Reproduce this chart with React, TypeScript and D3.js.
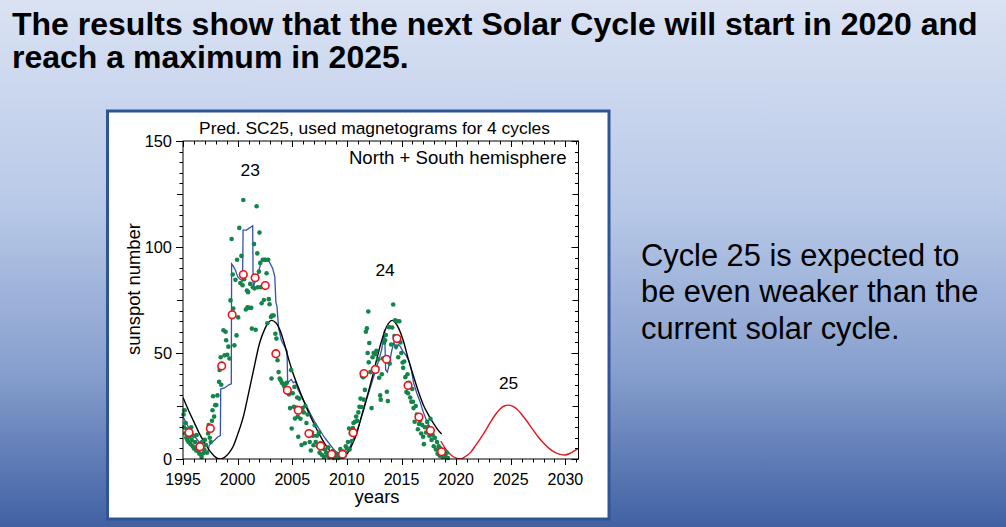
import React from "react";
import * as d3 from "d3";

// ---------- data ----------
const xMajorTicks = [1995, 2000, 2005, 2010, 2015, 2020, 2025, 2030];
const yMajorTicks = [0, 50, 100, 150];

// predicted (fitted) curve for cycles 23 and 24 (black)
const fitYears = [1995.0, 1995.5, 1996.0, 1996.5, 1997.0, 1997.5, 1998.0, 1998.4, 1998.8, 1999.2, 1999.6, 2000.0, 2000.5, 2001.0, 2001.5, 2002.0, 2002.5, 2002.8, 2003.1, 2003.5, 2003.9, 2004.3, 2004.7, 2005.1, 2005.5, 2006.0, 2006.5, 2007.0, 2007.5, 2008.0, 2008.5, 2009.0, 2009.35, 2009.7, 2010.1, 2010.5, 2010.9, 2011.3, 2011.8, 2012.4, 2013.0, 2013.6, 2014.15, 2014.6, 2015.15, 2015.6, 2016.1, 2016.6, 2017.0, 2017.5, 2017.9, 2018.3, 2018.67];
const fitValues = [29, 23, 17.5, 12, 7.5, 3.5, 0.8, 0, 0.8, 2.8, 6, 11.5, 19.5, 31, 43, 54.5, 61.5, 64.3, 65.4, 64.3, 60.5, 54, 46.5, 40, 34.5, 28, 22, 16.5, 11.5, 7, 3.5, 0.9, 0, 0.7, 3, 7, 12, 19.5, 28.5, 40, 52.5, 62, 65.4, 63, 56, 47.5, 39, 31, 25.5, 20.5, 17, 14, 11.8];

// predicted cycle 25 (red)
const predYears = [2018.6, 2019.0, 2019.5, 2020.0, 2020.35, 2020.8, 2021.3, 2021.8, 2022.2, 2022.7, 2023.1, 2023.6, 2024.0, 2024.4, 2024.8, 2025.2, 2025.6, 2026.0, 2026.5, 2027.0, 2027.5, 2028.0, 2028.5, 2029.0, 2029.5, 2029.95, 2030.4, 2030.8, 2031.2];
const predValues = [8.5, 5, 2, 0.4, 0, 1, 3, 6.5, 9.5, 13.5, 17, 21, 23.5, 25, 25.4, 24.8, 23.3, 21, 17.7, 14, 10.5, 7.5, 5, 3.2, 2.2, 1.9, 2.6, 3.8, 5];

// smoothed observed sunspot number (blue)
const obsYears = [1995.0, 1995.3, 1995.5, 1995.8, 1996.1, 1996.4, 1996.7, 1996.9, 1997.1, 1997.25, 1997.4, 1997.6, 1997.9, 1998.2, 1998.42, 1998.45, 1998.8, 1999.2, 1999.42, 1999.45, 1999.6, 1999.8, 2000.0, 2000.2, 2000.45, 2000.5, 2000.8, 2001.1, 2001.38, 2001.42, 2001.7, 2001.9, 2002.1, 2002.3, 2002.6, 2002.9, 2003.2, 2003.4, 2003.5, 2003.6, 2003.75, 2004.0, 2004.3, 2004.52, 2004.58, 2004.9, 2005.1, 2005.3, 2005.5, 2005.8, 2006.1, 2006.4, 2006.7, 2007.0, 2007.3, 2007.6, 2007.9, 2008.2, 2008.5, 2008.8, 2009.1, 2009.4, 2009.7, 2010.0, 2010.3, 2010.6, 2010.9, 2011.2, 2011.5, 2011.8, 2012.1, 2012.4, 2012.7, 2013.0, 2013.2, 2013.35, 2013.45, 2013.55, 2013.7, 2013.9, 2014.1, 2014.3, 2014.5, 2014.7, 2014.9, 2015.1, 2015.4, 2015.7, 2015.9, 2016.1, 2016.4, 2016.7, 2017.0, 2017.3, 2017.6, 2017.9, 2018.2, 2018.5, 2018.7];
const obsValues = [20, 17, 15, 12.5, 10.5, 8.5, 7, 5, 3.5, 2.8, 6.5, 7.5, 9, 10.5, 11, 33, 33.5, 35, 35.5, 92, 91, 89, 86, 85, 84, 108, 108, 109, 110, 81, 85, 88, 92, 94, 94.5, 93, 90, 86, 74, 72, 62, 56, 53, 51, 36, 37.5, 36, 36.5, 33, 30, 27, 24, 21, 18, 15.5, 13, 10.5, 8.5, 6.5, 4.5, 3, 2, 2.5, 3.5, 6, 9.5, 13, 17.5, 22.5, 28, 33, 38, 43, 48, 52, 58, 61, 42, 41, 45, 51, 55, 52, 54, 53, 51, 49, 46, 42, 36, 31, 27, 22, 18, 15, 12, 8.5, 6, 5];

// monthly values (green dots)
const monthlyYears = [
  1995.05, 1995.1, 1995.15, 1995.2, 1995.25, 1995.3, 1995.35, 1995.4, 1995.45, 1995.5, 1995.55, 1995.6, 1995.7, 1995.75, 1995.8, 1995.9, 1995.95,
  1996.0, 1996.1, 1996.2, 1996.25, 1996.3, 1996.4, 1996.45, 1996.5, 1996.6, 1996.7, 1996.75, 1996.85, 1996.95,
  1997.0, 1997.1, 1997.2, 1997.3, 1997.35, 1997.45, 1997.55, 1997.65, 1997.7, 1997.75, 1997.85, 1997.95,
  1998.05, 1998.15, 1998.3, 1998.35, 1998.45, 1998.5, 1998.6, 1998.7, 1998.8, 1998.9, 1998.95,
  1999.05, 1999.15, 1999.25, 1999.35, 1999.45, 1999.55, 1999.6, 1999.7, 1999.8, 1999.9, 1999.95,
  2000.05, 2000.15, 2000.25, 2000.35, 2000.45, 2000.52, 2000.6, 2000.75, 2000.85, 2000.9, 2000.95,
  2001.05, 2001.15, 2001.25, 2001.3, 2001.4, 2001.5, 2001.55, 2001.65, 2001.74, 2001.8, 2001.85, 2001.95,
  2002.0, 2002.07, 2002.12, 2002.2, 2002.3, 2002.4, 2002.45, 2002.55, 2002.65, 2002.72, 2002.8, 2002.85, 2002.92,
  2003.05, 2003.1, 2003.15, 2003.3, 2003.45, 2003.55, 2003.65, 2003.75, 2003.85, 2003.95,
  2004.05, 2004.2, 2004.3, 2004.4, 2004.5, 2004.6, 2004.7, 2004.8, 2004.9, 2004.95,
  2005.05, 2005.15, 2005.2, 2005.25, 2005.35, 2005.45, 2005.5, 2005.55, 2005.65, 2005.75, 2005.85, 2005.95,
  2006.05, 2006.15, 2006.2, 2006.3, 2006.4, 2006.5, 2006.6, 2006.7, 2006.8, 2006.9, 2006.95,
  2007.05, 2007.15, 2007.25, 2007.35, 2007.45, 2007.5, 2007.6, 2007.7, 2007.8, 2007.9,
  2008.0, 2008.1, 2008.2, 2008.3, 2008.4, 2008.5, 2008.6, 2008.7, 2008.8, 2008.9,
  2009.0, 2009.1, 2009.2, 2009.3, 2009.4, 2009.5, 2009.6, 2009.7, 2009.8, 2009.9,
  2010.0, 2010.1, 2010.2, 2010.25, 2010.35, 2010.45, 2010.55, 2010.6, 2010.7, 2010.75, 2010.85, 2010.95,
  2011.05, 2011.15, 2011.25, 2011.35, 2011.4, 2011.5, 2011.55, 2011.65, 2011.74, 2011.83, 2011.9, 2011.96,
  2012.0, 2012.05, 2012.15, 2012.26, 2012.35, 2012.45, 2012.55, 2012.62, 2012.7, 2012.78, 2012.88, 2012.95,
  2013.05, 2013.1, 2013.2, 2013.3, 2013.4, 2013.5, 2013.57, 2013.66, 2013.75, 2013.85, 2013.92,
  2014.05, 2014.15, 2014.24, 2014.35, 2014.42, 2014.5, 2014.6, 2014.7, 2014.8, 2014.9, 2014.98,
  2015.1, 2015.15, 2015.25, 2015.35, 2015.45, 2015.55, 2015.6, 2015.7, 2015.8, 2015.9, 2015.98,
  2016.05, 2016.1, 2016.2, 2016.3, 2016.4, 2016.5, 2016.6, 2016.7, 2016.8, 2016.9, 2016.98,
  2017.05, 2017.15, 2017.25, 2017.35, 2017.45, 2017.55, 2017.65, 2017.75, 2017.85, 2017.95,
  2018.05, 2018.15, 2018.25, 2018.3, 2018.4, 2018.5, 2018.55, 2018.65, 2018.75, 2018.85, 2018.95,
  2019.05, 2019.15, 2019.25,
];
const monthlyValues = [
  21, 15, 23, 12, 17, 10, 14, 9, 11, 8, 13, 10.5, 7, 15, 9, 6, 11,
  5, 8, 4, 11.3, 6, 3.5, 7, 2.5, 5, 1, 8, 2.7, 4.5,
  9, 6.6, 3, 12, 16, 10, 8, 18, 23, 29.6, 20, 25.4,
  25.5, 30, 36.4, 42, 48, 35, 43.7, 60.7, 48.9, 60, 56,
  49.2, 53, 47.4, 74.8, 103.8, 87, 71, 53.6, 84.5, 58.3, 94,
  66.8, 109, 83, 95.8, 82, 122.2, 84.8, 70.5, 79.5, 71.5, 78.7,
  71.3, 82.6, 71.3, 61.5, 81, 101.4, 80.5, 61, 119.2, 97, 81, 88.4,
  106.8, 92.5, 81, 73.5, 94, 75, 94, 94, 87.6, 64, 94, 75.4, 73,
  67, 38, 67.7, 67.7, 59.1, 56.8, 46.6, 41, 38, 37.2,
  36, 35, 34, 35.5, 36, 33, 30.5, 24, 41.9, 14.4,
  31, 24.6, 34, 19.1, 24.3, 29, 20, 10.5, 28.5, 19, 6.6, 24,
  22, 7.4, 25, 17, 21, 13, 8, 4, 12.5, 11, 6.5,
  16, 8, 11, 6, 12.5, 3, 7.5, 2, 5, 1,
  4.5, 3, 1.5, 5.5, 0.8, 2.2, 1.4, 3.8, 0.5, 1.5,
  1, 2.5, 0.5, 1.8, 4.7, 1.3, 2.5, 3.5, 1.5, 6,
  5, 8, 14.4, 4.5, 12, 8.5, 14.6, 17, 12, 17.6, 20, 18,
  22, 24.6, 28.5, 24.5, 39, 38.6, 28, 32.6, 60, 61.6, 50, 69.6,
  45.6, 54.7, 41, 24, 48, 50, 43.3, 49.4, 51, 43, 47, 38.3,
  30, 28, 40, 47.4, 54.9, 56, 58.5, 31.7, 27.3, 62.2, 45,
  54, 62, 72.9, 58, 65.4, 53, 65, 48, 65, 55, 50,
  45.5, 43, 46, 38.6, 31.6, 40, 31, 36, 29, 27, 33,
  27, 24, 17.6, 25, 21, 14, 16.5, 18, 12, 16, 10.5,
  7, 15, 12.5, 17.5, 15.2, 11, 19, 9, 11.3, 6,
  10, 4.5, 8, 2.5, 6, 1.5, 5, 3.5, 1, 4, 2.5,
  1, 3, 0.5,
];

// yearly means (red circles)
const yearlyYears = [1995.55, 1996.55, 1997.5, 1998.54, 1999.5, 2000.52, 2001.6, 2002.53, 2003.5, 2004.55, 2005.55, 2006.53, 2007.6, 2008.6, 2009.6, 2010.58, 2011.56, 2012.6, 2013.63, 2014.58, 2015.6, 2016.6, 2017.65, 2018.67];
const yearlyValues = [12.5, 5.8, 14.4, 43.9, 68, 87, 85.5, 81.8, 49.7, 32.4, 23, 12, 6.1, 2.2, 2.2, 12.4, 40.3, 42.2, 47, 56.8, 34.7, 19.8, 13.4, 3.4];

const cycleLabels = ["23", "24", "25"];
const cycleLabelYears = [2001.15, 2013.5, 2024.8];
const cycleLabelValues = [133.5, 86.5, 33];

const titleLines = [
  "The results show that the next Solar Cycle will start in 2020 and",
  "reach a maximum in 2025.",
];
const sideLines = ["Cycle 25 is expected to", "be even weaker than the", "current solar cycle."];

// ---------- chart ----------
const W = 1006;
const H = 527;
const FONT = "'Liberation Sans', Arial, Helvetica, sans-serif";

export default function App() {
  const left = 183, right = 578.5, top = 141, bottom = 459;
  const x = d3.scaleLinear().domain([1995, 2031.2]).range([left, right]);
  const y = d3.scaleLinear().domain([0, 150]).range([bottom, top]);

  const line = d3
    .line<[number, number]>()
    .x((d) => x(d[0]))
    .y((d) => y(d[1]));
  const smooth = d3
    .line<[number, number]>()
    .x((d) => x(d[0]))
    .y((d) => y(d[1]))
    .curve(d3.curveMonotoneX);

  const fitPts = fitYears.map((t, i) => [t, fitValues[i]] as [number, number]);
  const predPts = predYears.map((t, i) => [t, predValues[i]] as [number, number]);
  const obsPts = obsYears.map((t, i) => [t, obsValues[i]] as [number, number]);

  const yearTicks = d3.range(1995, 2032, 1);
  const valTicks = d3.range(0, 151, 5);

  return (
    <svg
      width={W}
      height={H}
      viewBox={`0 0 ${W} ${H}`}
      style={{ position: "absolute", left: 0, top: 0, display: "block" }}
      fontFamily={FONT}
    >
      <defs>
        <linearGradient id="bg" x1="0" y1="0" x2="0" y2="1">
          <stop offset="0" stopColor="#dae2f3" />
          <stop offset="0.4" stopColor="#b7c8e7" />
          <stop offset="0.7" stopColor="#88a0ce" />
          <stop offset="1" stopColor="#4161a3" />
        </linearGradient>
        <clipPath id="plotClip">
          <rect x={left} y={top - 2} width={right - left} height={bottom - top + 2} />
        </clipPath>
      </defs>
      <rect x={0} y={0} width={W} height={H} fill="url(#bg)" />

      {titleLines.map((t, i) => (
        <text key={t} x={12} y={35 + i * 33.3} fontSize={32} fontWeight="bold" fill="#000">
          {t}
        </text>
      ))}

      {sideLines.map((t, i) => (
        <text key={t} x={641} y={265.5 + i * 36.7} fontSize={30.8} fill="#000">
          {t}
        </text>
      ))}

      {/* chart panel */}
      <rect x={107.5} y={111} width={501.5} height={408} fill="#fff" stroke="#2f5597" strokeWidth={3} />

      {/* plot title */}
      <text x={374.5} y={134} fontSize={17.4} textAnchor="middle" fill="#000">
        Pred. SC25, used magnetograms for 4 cycles
      </text>
      <text x={566.5} y={164.3} fontSize={18.6} textAnchor="end" fill="#000">
        North + South hemisphere
      </text>

      {/* curves */}
      <g clipPath="url(#plotClip)">
        <path d={line(obsPts) || ""} fill="none" stroke="#3553a8" strokeWidth={1.3} />
        <path d={smooth(fitPts) || ""} fill="none" stroke="#000" strokeWidth={1.4} />
        <path d={smooth(predPts) || ""} fill="none" stroke="#e3161d" strokeWidth={1.4} />
      </g>

      {/* monthly points */}
      <g fill="#13844a">
        {monthlyYears.map((t, i) => (
          <circle key={i} cx={x(t)} cy={y(monthlyValues[i])} r={2.3} />
        ))}
      </g>

      {/* yearly means */}
      <g fill="#fff" stroke="#e8141c" strokeWidth={1.6}>
        {yearlyYears.map((t, i) => (
          <circle key={i} cx={x(t)} cy={y(yearlyValues[i])} r={3.8} />
        ))}
      </g>

      {/* cycle numbers */}
      {cycleLabels.map((c, i) => (
        <text key={c} x={x(cycleLabelYears[i])} y={y(cycleLabelValues[i])} fontSize={17.4} textAnchor="middle" fill="#000">
          {c}
        </text>
      ))}

      {/* frame */}
      <rect x={left} y={top} width={right - left} height={bottom - top} fill="none" stroke="#000" strokeWidth={1} />

      {/* x ticks: bottom outward, top inward */}
      <g stroke="#000" strokeWidth={1}>
        {yearTicks.map((t) => {
          const major = t % 5 === 0;
          const len = major ? 6 : 3.5;
          const px = Math.round(x(t)) + 0.5;
          return (
            <g key={t}>
              <line x1={px} x2={px} y1={bottom} y2={bottom + len} />
              <line x1={px} x2={px} y1={top} y2={top + len} />
            </g>
          );
        })}
        {valTicks.map((v) => {
          const len = v % 50 === 0 ? 7 : v % 25 === 0 ? 6 : 3.5;
          const py = Math.round(y(v)) + 0.5;
          return (
            <g key={v}>
              <line x1={left - len} x2={left} y1={py} y2={py} />
              <line x1={right - len} x2={right} y1={py} y2={py} />
            </g>
          );
        })}
      </g>

      {xMajorTicks.map((t) => (
        <text key={t} x={x(t)} y={485} fontSize={16} textAnchor="middle" fill="#000">
          {t}
        </text>
      ))}
      {yMajorTicks.map((v) => (
        <text key={v} x={172} y={y(v) + 6} fontSize={16.4} textAnchor="end" fill="#000">
          {v}
        </text>
      ))}

      <text x={377} y={503} fontSize={18.4} textAnchor="middle" fill="#000">
        years
      </text>
      <text
        transform={`translate(140,289) rotate(-90)`}
        fontSize={18.4}
        textAnchor="middle"
        fill="#000"
      >
        sunspot number
      </text>
    </svg>
  );
}
